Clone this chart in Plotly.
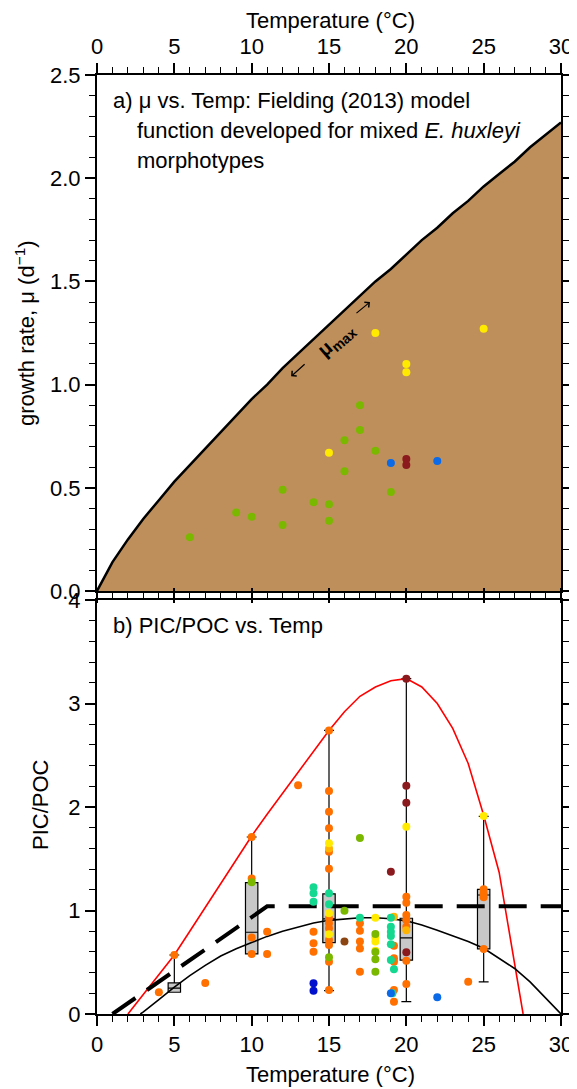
import plotly.graph_objects as go

# ---------------- data ----------------
# Panel a: Fielding (2013) mu_max curve
mu_curve_temp = list(range(0, 31))
mu_curve_vals = [0, 0.14, 0.25, 0.35, 0.44, 0.53, 0.61, 0.69, 0.77, 0.85, 0.93,
                 1.00, 1.08, 1.15, 1.22, 1.29, 1.36, 1.43, 1.50, 1.56, 1.63,
                 1.70, 1.76, 1.83, 1.89, 1.96, 2.02, 2.08, 2.15, 2.21, 2.27]

# Panel a: observed growth rates
mu_temp = [6, 9, 10, 12, 12, 14, 15, 15, 16, 16, 17, 17, 18, 19,
           15, 18, 20, 20, 25,
           19, 22,
           20, 20]
mu_vals = [0.26, 0.38, 0.36, 0.49, 0.32, 0.43, 0.42, 0.34, 0.73, 0.58, 0.90, 0.78, 0.68, 0.48,
           0.67, 1.25, 1.10, 1.06, 1.27,
           0.62, 0.63,
           0.64, 0.61]
mu_group = ["green"] * 14 + ["yellow"] * 5 + ["blue"] * 2 + ["darkred"] * 2

# Panel b: model curves
red_temp = [2, 3, 4, 5, 6, 7, 8, 9, 10, 11, 12, 13, 14, 15, 16, 17, 18, 19, 20,
            21, 22, 23, 24, 25, 26, 27, 27.55]
red_vals = [0, 0.19, 0.38, 0.57, 0.80, 1.03, 1.26, 1.49, 1.72, 1.93, 2.13, 2.33, 2.54,
            2.74, 2.92, 3.07, 3.16, 3.22, 3.24, 3.16, 3.00, 2.76, 2.42, 1.92, 1.37, 0.50, 0]

black_temp = [2.8, 3, 4, 5, 6, 7, 8, 9, 10, 11, 12, 13, 14, 15, 16, 17, 18, 19, 20,
              21, 22, 23, 24, 25, 26, 27, 28, 29, 30]
black_vals = [0, 0.02, 0.14, 0.26, 0.37, 0.47, 0.56, 0.63, 0.69, 0.75, 0.80, 0.84, 0.88,
              0.905, 0.92, 0.93, 0.93, 0.92, 0.90, 0.86, 0.81, 0.755, 0.70, 0.635, 0.54,
              0.44, 0.31, 0.16, 0]

dash_temp = [1, 11, 30]
dash_vals = [0, 1.04, 1.04]

# Panel b: box statistics
box_temp = [5, 10, 15, 20, 25]
box_q1 = [0.21, 0.58, 0.69, 0.52, 0.63]
box_median = [0.25, 0.79, 0.92, 0.735, 1.15]
box_q3 = [0.30, 1.27, 1.16, 0.925, 1.205]
box_low = [0.21, 0.58, 0.225, 0.12, 0.31]
box_high = [0.57, 1.71, 2.74, 3.24, 1.91]

# Panel b: observed PIC/POC
pp_temp = [4, 5, 7, 10, 10, 10, 10, 11, 11, 13, 14, 14, 14,
           15, 15, 15, 15, 15, 15, 15, 15, 15, 15, 15, 15, 15,
           17, 17, 17, 17, 17, 19.2, 19.2, 19.2, 19.2, 19.2,
           20, 20, 20, 20, 20, 20, 20, 24, 25, 25, 25, 25,
           15, 19.2, 20,
           15, 15, 15, 18, 18, 18, 18, 20, 25,
           14, 14, 14, 15, 15, 17, 19, 19, 19, 19, 19, 19, 19.2, 19.1,
           10, 15, 16, 17, 18, 18, 18, 18,
           16,
           19, 20, 20, 20, 20,
           14, 14,
           19, 22]
pp_ratio = [0.21, 0.57, 0.30, 1.71, 1.31, 0.74, 0.58, 0.795, 0.58, 2.21, 0.795, 0.683, 0.602,
            2.74, 2.155, 1.955, 1.794, 1.568, 1.404, 0.925, 0.876, 0.828, 0.715, 0.667, 0.506, 0.232,
            0.876, 0.805, 0.70, 0.634, 0.409, 0.66, 0.538, 0.506, 0.232, 0.119,
            1.134, 1.075, 0.957, 0.908, 0.844, 0.515, 0.29, 0.312, 1.205, 1.166, 1.127, 0.628,
            1.60, 0.94, 0.81,
            1.65, 0.973, 0.77, 0.93, 0.741, 0.70, 0.612, 1.81, 1.913,
            1.224, 1.166, 1.085, 1.166, 1.06, 0.93, 0.93, 0.844, 0.795, 0.754, 0.673, 0.522, 0.432, 0.2,
            1.272, 0.548, 0.998, 1.70, 0.773, 0.528, 0.409, 0.60,
            0.70,
            1.375, 3.24, 2.206, 2.042, 0.596,
            0.297, 0.225,
            0.2, 0.161]
pp_group = (["orange"] * 48 + ["amber"] * 3 + ["yellow"] * 9 + ["teal"] * 14 +
            ["green"] * 8 + ["brown"] * 1 + ["darkred"] * 5 + ["darkblue"] * 2 + ["blue"] * 2)

# ---------------- style ----------------
palette = {"orange": "#FF7000", "amber": "#FFB400", "yellow": "#FFEA00", "teal": "#14D890",
           "green": "#7AB800", "brown": "#8B4513", "darkred": "#8B1A1E",
           "darkblue": "#0010CC", "blue": "#0A6AE8"}
FONT = "Liberation Sans, Arial, Helvetica, sans-serif"
OFF = 8  # default page body margin
W, H = 577 - OFF, 1089 - OFF
# plot area in page pixels: x 97..561, y 75..1014
L, R, T, B = 97 - OFF, 577 - 561, 75 - OFF, 1089 - 1014
PW, PH = W - L - R, H - T - B


def px(x):  # page pixel x -> paper
    return (x - OFF - L) / PW


def py(y):  # page pixel y -> paper
    return (H - B - (y - OFF)) / PH


fig = go.Figure()

# Panel a
fig.add_trace(go.Scatter(x=mu_curve_temp, y=mu_curve_vals, mode="lines", fill="tozeroy",
                         fillcolor="#BF8F5B", line=dict(color="black", width=2.5),
                         xaxis="x", yaxis="y", hoverinfo="skip"))
for g in ["green", "yellow", "blue", "darkred"]:
    xs = [t for t, k in zip(mu_temp, mu_group) if k == g]
    ys = [v for v, k in zip(mu_vals, mu_group) if k == g]
    fig.add_trace(go.Scatter(x=xs, y=ys, mode="markers", xaxis="x", yaxis="y",
                             marker=dict(color=palette[g], size=8, line=dict(width=0))))

# Panel b
fig.add_trace(go.Box(x=box_temp, q1=box_q1, median=box_median, q3=box_q3,
                     lowerfence=box_low, upperfence=box_high, width=0.8, whiskerwidth=0.8,
                     fillcolor="#C8C8C8", line=dict(color="black", width=1.2),
                     boxpoints=False, xaxis="x2", yaxis="y2"))
fig.add_trace(go.Scatter(x=red_temp, y=red_vals, mode="lines", line=dict(color="red", width=1.6),
                         xaxis="x2", yaxis="y2"))
fig.add_trace(go.Scatter(x=black_temp, y=black_vals, mode="lines", line=dict(color="black", width=1.6),
                         xaxis="x2", yaxis="y2"))
fig.add_trace(go.Scatter(x=dash_temp, y=dash_vals, mode="lines",
                         line=dict(color="black", width=4, dash="28px,14px"),
                         xaxis="x2", yaxis="y2"))
for g in ["orange", "amber", "yellow", "teal", "green", "brown", "darkred", "darkblue", "blue"]:
    xs = [t for t, k in zip(pp_temp, pp_group) if k == g]
    ys = [v for v, k in zip(pp_ratio, pp_group) if k == g]
    fig.add_trace(go.Scatter(x=xs, y=ys, mode="markers", xaxis="x2", yaxis="y2",
                             marker=dict(color=palette[g], size=8, line=dict(width=0))))

axis_common = dict(showline=True, linewidth=2, linecolor="black", mirror="ticks",
                   ticks="outside", ticklen=10, tickwidth=1.5, tickcolor="black",
                   showgrid=False, zeroline=False, automargin=False,
                   tickfont=dict(family=FONT, size=22, color="black"))
minor_common = dict(ticklen=6, tickwidth=1.2, ticks="outside", tickcolor="black", showgrid=False)
ya_dom = [py(591), 1]
yb_dom = [0, py(600)]

fig.update_layout(
    width=W, height=H, margin=dict(l=L, r=R, t=T, b=B),
    paper_bgcolor="white", plot_bgcolor="white", showlegend=False,
    boxmode="overlay",
    xaxis=dict(axis_common, range=[0, 30], dtick=5, side="top", anchor="y",
               minor=dict(minor_common, dtick=1)),
    yaxis=dict(axis_common, range=[0, 2.5], dtick=0.5, tickformat=".1f", domain=ya_dom, anchor="x",
               minor=dict(minor_common, dtick=0.1)),
    xaxis2=dict(axis_common, range=[0, 30], dtick=5, side="bottom", anchor="y2",
                minor=dict(minor_common, dtick=1)),
    yaxis2=dict(axis_common, range=[0, 4], dtick=1, domain=yb_dom, anchor="x2",
                minor=dict(minor_common, dtick=0.2)),
)

ann_font = dict(family=FONT, size=22, color="black")
anns = [
    dict(text="Temperature (°C)", x=px(330), y=py(20)),
    dict(text="Temperature (°C)", x=px(330), y=py(1074)),
    dict(text="growth rate, μ (d<sup>−1</sup>)", x=px(25), y=py(333), textangle=-90),
    dict(text="PIC/POC", x=px(40), y=py(805), textangle=-90),
]
for a in anns:
    fig.add_annotation(xref="paper", yref="paper", showarrow=False, font=ann_font,
                       xanchor="center", yanchor="middle", **a)

panel_font = dict(family=FONT, size=22, color="black")
for txt, x0, y0 in [("a) μ vs. Temp: Fielding (2013) model", 111, 100),
                    ("function developed for mixed <i>E. huxleyi</i>", 135, 130),
                    ("morphotypes", 135, 160),
                    ("b) PIC/POC vs. Temp", 111, 625)]:
    fig.add_annotation(xref="paper", yref="paper", showarrow=False, font=panel_font,
                       xanchor="left", yanchor="middle", x=px(x0), y=py(y0), text=txt)

# mu_max label with arrows along the curve
fig.add_annotation(xref="x", yref="y", showarrow=False, x=15.45, y=1.215,
                   text="<b>μ<sub>max</sub></b>", textangle=-41,
                   font=dict(family=FONT, size=20, color="black"))
for x0, y0, dx, dy in [(12.55, 1.04, 15, -13.4), (17.65, 1.40, -15, 12.3)]:
    fig.add_annotation(xref="x", yref="y", x=x0, y=y0, ax=dx, ay=dy, text="",
                       showarrow=True, arrowhead=4, arrowsize=1.1, arrowwidth=1.2,
                       arrowcolor="black")

fig.write_html("out.html")
